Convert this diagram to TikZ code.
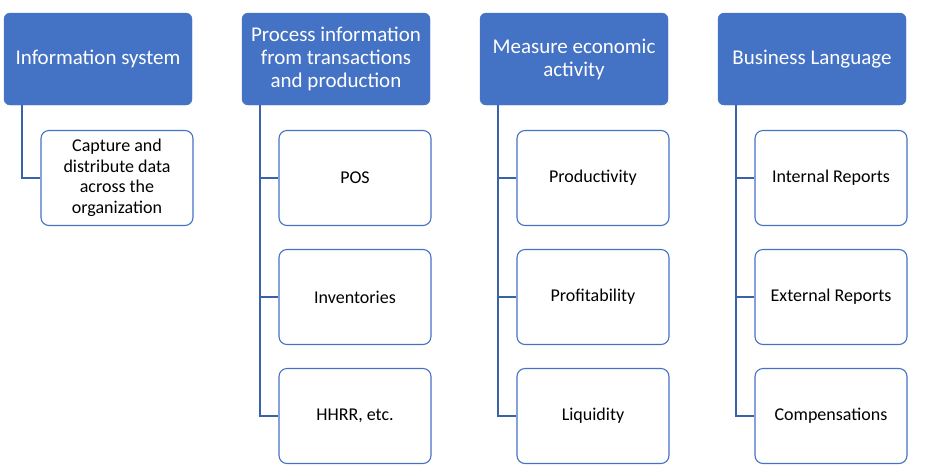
\documentclass[tikz,border=0pt]{standalone}
\usepackage{fontspec}
\setmainfont{Carlito}
\definecolor{hdblue}{HTML}{4472C4}
\definecolor{lnblue}{HTML}{3A62A8}
\tikzset{
  head/.style={rectangle, rounded corners=6pt, fill=hdblue, draw=hdblue, text=white,
    minimum width=188pt, minimum height=92pt, align=center, inner sep=2pt,
    font=\fontsize{21}{23}\selectfont},
  leaf/.style={rectangle, rounded corners=8pt, fill=white, draw=hdblue, line width=1.1pt,
    minimum width=152pt, minimum height=95pt, align=center, inner sep=2pt,
    font=\fontsize{18}{20.5}\selectfont},
  link/.style={draw=lnblue, line width=1.5pt}
}
\begin{document}
\begin{tikzpicture}[x=1pt,y=-1pt]
\useasboundingbox (0,0) rectangle (930,475);
% headers
\node [head] (info) at (98,59) {Information system};
\node [head] (proc) at (336,59) {Process information\\from transactions\\and production};
\node [head] (meas) at (574,59) {Measure economic\\activity};
\node [head] (lang) at (812,59) {Business Language};
% column 1
\node [leaf] (capt) at (117,178) {Capture and\\distribute data\\across the\\organization};
% column 2
\node [leaf] (pos) at (355,178) {POS};
\node [leaf] (inv) at (355,297) {Inventories};
\node [leaf] (hhrr) at (355,416) {HHRR, etc.};
% column 3
\node [leaf] (prod) at (593,178) {Productivity};
\node [leaf] (prof) at (593,297) {Profitability};
\node [leaf] (liqu) at (593,416) {Liquidity};
% column 4
\node [leaf] (intr) at (831,178) {Internal Reports};
\node [leaf] (extr) at (831,297) {External Reports};
\node [leaf] (comp) at (831,416) {Compensations};
% connectors
\draw [link] (info.south west) ++(18,0) |- (capt.west);
\draw [link] (proc.south west) ++(18,0) |- (pos.west);
\draw [link] (proc.south west) ++(18,0) |- (inv.west);
\draw [link] (proc.south west) ++(18,0) |- (hhrr.west);
\draw [link] (meas.south west) ++(18,0) |- (prod.west);
\draw [link] (meas.south west) ++(18,0) |- (prof.west);
\draw [link] (meas.south west) ++(18,0) |- (liqu.west);
\draw [link] (lang.south west) ++(18,0) |- (intr.west);
\draw [link] (lang.south west) ++(18,0) |- (extr.west);
\draw [link] (lang.south west) ++(18,0) |- (comp.west);
\end{tikzpicture}
\end{document}
